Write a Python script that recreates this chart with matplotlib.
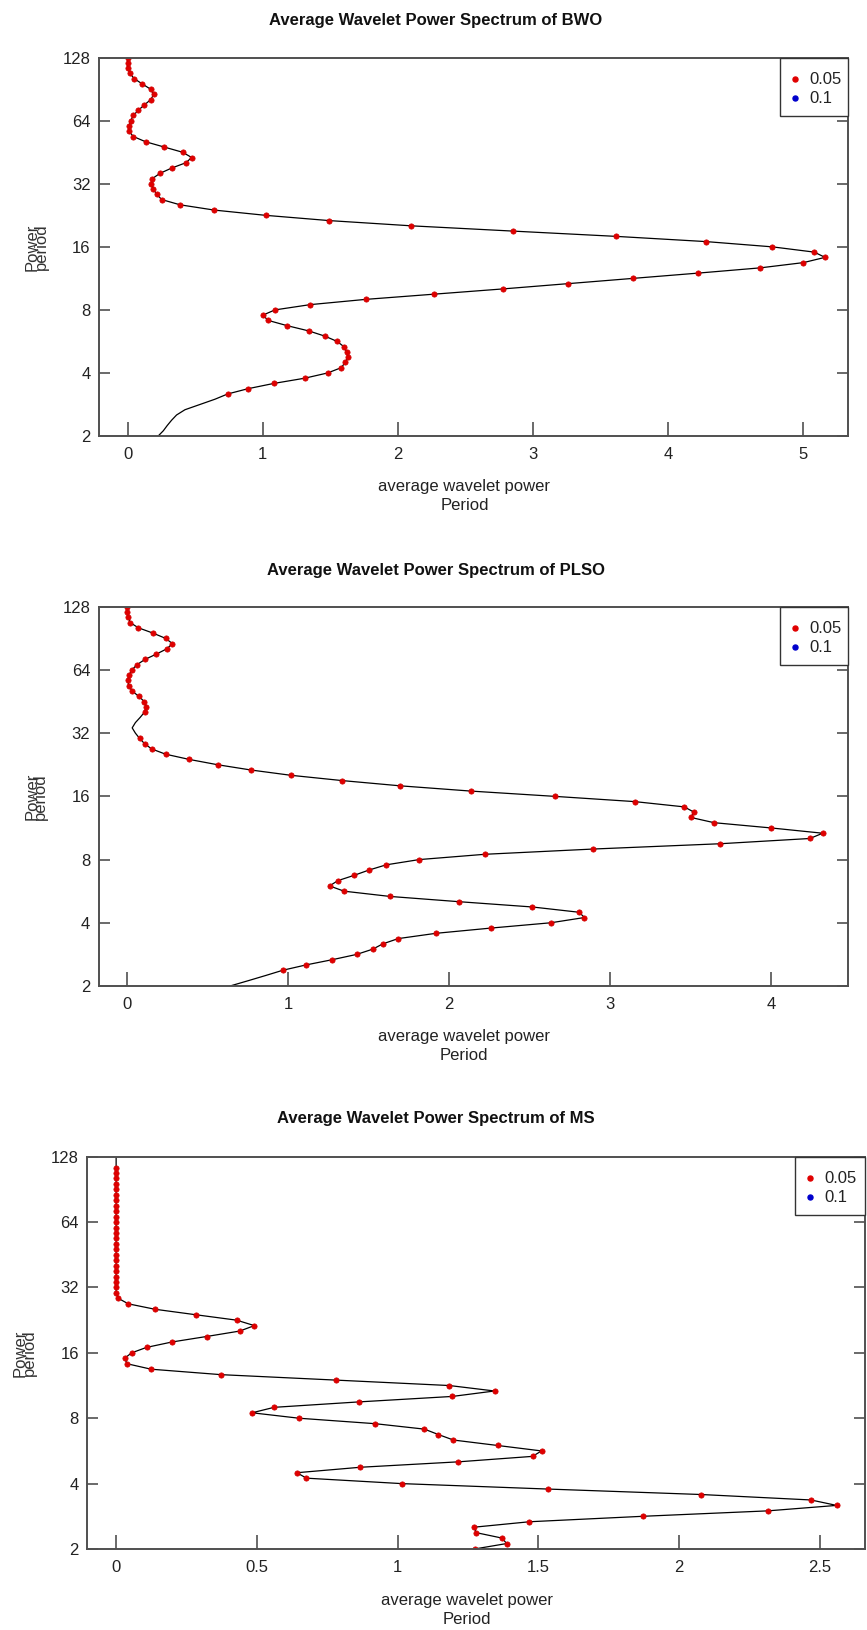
import matplotlib
matplotlib.use("Agg")
import matplotlib.pyplot as plt
from matplotlib.patches import Rectangle
from matplotlib.lines import Line2D
import numpy as np

plt.rcParams['font.family'] = ['Liberation Sans', 'DejaVu Sans']

# periods on a log2 grid, 12 voices per octave, 2 -> 128
periods = 2 ** (1 + np.arange(73) / 12)

# average wavelet power, index 0 = period 2, index 72 = period 128
bwo_power = [0.226, 0.264, 0.293, 0.325, 0.362, 0.424, 0.535, 0.646, 0.74, 0.89,
             1.08, 1.31, 1.48, 1.58, 1.61, 1.63, 1.62, 1.60, 1.55, 1.46,
             1.34, 1.18, 1.04, 1.00, 1.09, 1.35, 1.76, 2.27, 2.78, 3.26,
             3.74, 4.22, 4.68, 5.00, 5.16, 5.08, 4.77, 4.28, 3.61, 2.85,
             2.10, 1.49, 1.02, 0.64, 0.388, 0.252, 0.215, 0.19, 0.175, 0.183,
             0.24, 0.326, 0.43, 0.474, 0.407, 0.27, 0.133, 0.042, 0.01, 0.01,
             0.022, 0.042, 0.079, 0.123, 0.17, 0.193, 0.17, 0.109, 0.049, 0.017,
             0.0, 0.0, 0.0]
bwo_signif = [False] * 8 + [True] * 65

plso_power = [0.638, 0.75, 0.86, 0.967, 1.11, 1.274, 1.425, 1.525, 1.587, 1.683,
              1.917, 2.26, 2.63, 2.84, 2.806, 2.516, 2.062, 1.632, 1.346, 1.256,
              1.308, 1.408, 1.50, 1.608, 1.814, 2.22, 2.895, 3.68, 4.24, 4.32,
              4.0, 3.645, 3.50, 3.52, 3.46, 3.153, 2.654, 2.134, 1.694, 1.332,
              1.015, 0.768, 0.561, 0.386, 0.238, 0.151, 0.107, 0.076, 0.05, 0.03,
              0.05, 0.08, 0.107, 0.118, 0.105, 0.07, 0.03, 0.008, 0.003, 0.01,
              0.028, 0.06, 0.11, 0.18, 0.245, 0.28, 0.237, 0.158, 0.068, 0.017,
              0.006, 0.0, 0.0]
plso_signif = [False] * 3 + [True] * 45 + [False] * 4 + [True] * 21

ms_power = [1.273, 1.387, 1.371, 1.279, 1.271, 1.468, 1.870, 2.315, 2.559, 2.468,
            2.078, 1.535, 1.015, 0.676, 0.642, 0.867, 1.216, 1.479, 1.511, 1.355,
            1.198, 1.145, 1.095, 0.920, 0.650, 0.483, 0.561, 0.863, 1.194, 1.344,
            1.184, 0.780, 0.372, 0.124, 0.039, 0.030, 0.055, 0.108, 0.199, 0.321,
            0.439, 0.491, 0.428, 0.282, 0.138, 0.043, 0.008] + [0.0] * 26
ms_signif = [True] * 71 + [False] * 2

names = ['BWO', 'PLSO', 'MS']
xticks = [[0, 1, 2, 3, 4, 5], [0, 1, 2, 3, 4], [0, 0.5, 1, 1.5, 2, 2.5]]
xtick_labels = [['0', '1', '2', '3', '4', '5'], ['0', '1', '2', '3', '4'],
                ['0', '0.5', '1', '1.5', '2', '2.5']]
xlims = [(-0.212, 5.33), (-0.178, 4.477), (-0.1024, 2.66)]
yticks = [2, 4, 8, 16, 32, 64, 128]
legend_labels = ['0.05', '0.1']
legend_colors = ['#e00000', '#0000cc']

W, H = 867, 1630
fig = plt.figure(figsize=(W / 100, H / 100), dpi=100)

# axes boxes in pixels: left, top, right, bottom
boxes = [(99, 57.7, 848, 436), (98.7, 606.7, 848, 986), (87.3, 1156.7, 865, 1549)]
title_y = [21, 570, 1119]
xlab_y = [486, 1036, 1600]
leg_w = [68, 68, 70]

series = [(bwo_power, bwo_signif), (plso_power, plso_signif), (ms_power, ms_signif)]
axcol = '#505050'

for i in range(3):
    l, t, r, b = boxes[i]
    ax = fig.add_axes([l / W, 1 - b / H, (r - l) / W, (b - t) / H])
    p, s = series[i]
    p = np.array(p)
    s = np.array(s)
    ax.plot(p, periods, color='black', lw=0.9)
    ax.plot(p[s], periods[s], 'o', color='#e00000', ms=3.8, mec='#d00000', mew=0.5)
    ax.set_yscale('log', base=2)
    ax.set_ylim(2, 128)
    ax.set_xlim(*xlims[i])
    ax.set_yticks(yticks)
    ax.set_yticklabels([str(v) for v in yticks])
    ax.minorticks_off()
    ax.set_xticks(xticks[i])
    ax.set_xticklabels(xtick_labels[i])
    ax.tick_params(direction='in', length=10, width=1.2, color=axcol,
                   labelsize=12, pad=6, right=True, labelcolor='#222222')
    ax.tick_params(axis='x', pad=8)
    ax.tick_params(axis='y', which='major', right=True, length=8)
    for sp in ax.spines.values():
        sp.set_color(axcol)
        sp.set_linewidth(1.4)

    # legend box at top right, drawn in pixel positions
    lx = r - leg_w[i]
    fig.add_artist(Rectangle((lx / W, 1 - (t + 58) / H), leg_w[i] / W, 58 / H,
                             transform=fig.transFigure, facecolor='white',
                             edgecolor='#333333', lw=1.0))
    for j in range(2):
        yy = t + 21.5 + 19 * j
        fig.add_artist(Line2D([(lx + 15) / W], [1 - yy / H], transform=fig.transFigure,
                              ls='none', marker='o', ms=3.6, color=legend_colors[j]))
        fig.text((lx + 29) / W, 1 - yy / H, legend_labels[j], ha='left', va='center',
                 fontsize=12, color='#222222')

    cx = (l + r) / 2 - 9
    cy = (t + b) / 2
    fig.text(436 / W, 1 - title_y[i] / H, 'Average Wavelet Power Spectrum of ' + names[i],
             ha='center', va='center', fontsize=12, fontweight='bold', color='#111111')
    fig.text(cx / W, 1 - xlab_y[i] / H, 'average wavelet power', ha='center', va='center',
             fontsize=12, color='#222222')
    fig.text(cx / W, 1 - (xlab_y[i] + 20) / H, 'Period', ha='center', va='center',
             fontsize=12, color='#222222')
    fig.text((l - 67) / W, 1 - cy / H, 'Power', rotation=90, ha='center', va='center',
             fontsize=12, color='#333333')
    fig.text((l - 58) / W, 1 - cy / H, 'period', rotation=90, ha='center', va='center',
             fontsize=12, color='#333333')

fig.savefig('out.png', dpi=100)
